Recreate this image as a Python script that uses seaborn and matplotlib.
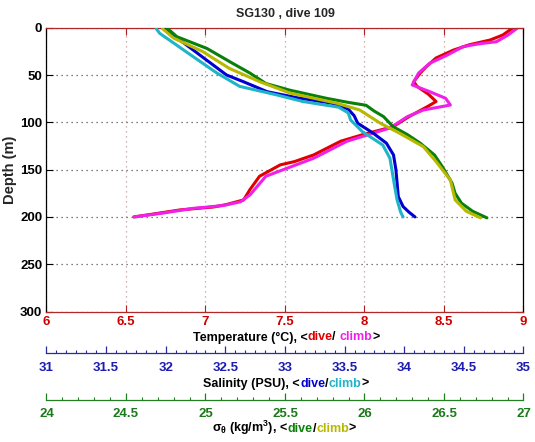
import numpy as np
import pandas as pd
import matplotlib
matplotlib.use('Agg')
import matplotlib.pyplot as plt
import seaborn as sns
from matplotlib.ticker import FixedLocator

# profile readings: depth (m) and value
temp_dive_depth = [0.6, 7.7, 13, 18, 23.6, 32, 41, 48, 57, 62, 70, 78, 83, 94, 104.6, 113, 120,
                   134.5, 141.5, 145, 157, 171, 182, 187, 189.5, 192.6, 198, 200]
temp_dive = [8.93, 8.87, 8.79, 8.66, 8.56, 8.45, 8.39, 8.35, 8.31, 8.33, 8.40, 8.45, 8.40, 8.28, 8.18,
             7.99, 7.85, 7.68, 7.56, 7.47, 7.34, 7.28, 7.24, 7.13, 7.05, 6.84, 6.63, 6.55]
temp_climb_depth = [0.6, 8, 14.8, 17, 20, 29, 37.6, 48, 60.5, 67.6, 74.6, 81.7, 87, 94, 106, 120,
                    138, 150, 157, 176.7, 184, 188, 191, 196, 200]
temp_climb = [8.96, 8.90, 8.83, 8.72, 8.62, 8.52, 8.41, 8.34, 8.30, 8.41, 8.51, 8.54, 8.37, 8.27, 8.16,
              7.89, 7.68, 7.49, 7.38, 7.28, 7.22, 7.11, 6.92, 6.73, 6.55]

sal_dive_depth = [0.5, 16, 34, 50, 57, 67.6, 74, 80, 86, 93, 101, 111.5, 122, 134.5, 150, 164,
                  178.5, 189, 195, 200]
sal_dive = [31.98, 32.15, 32.34, 32.51, 32.65, 32.85, 33.10, 33.40, 33.53, 33.58, 33.61, 33.74,
            33.85, 33.91, 33.93, 33.94, 33.95, 33.99, 34.04, 34.09]
sal_climb_depth = [1, 6, 30.6, 48, 62, 71, 78, 84, 90, 97.5, 110, 124, 138, 168, 182, 195, 200]
sal_climb = [31.92, 31.95, 32.23, 32.43, 32.62, 32.93, 33.15, 33.45, 33.53, 33.55, 33.65, 33.82,
             33.88, 33.92, 33.94, 33.97, 33.99]

sig_dive_depth = [0.6, 9.5, 22, 37.6, 48, 59, 66, 74.6, 79, 82, 88, 94, 104.6, 113, 122, 134.5,
                  147, 164, 175, 185.5, 194, 201]
sig_dive = [24.76, 24.82, 25.01, 25.17, 25.28, 25.38, 25.53, 25.76, 25.90, 26.01, 26.06, 26.12,
            26.18, 26.27, 26.35, 26.44, 26.49, 26.55, 26.57, 26.61, 26.68, 26.77]
sig_climb_depth = [1, 11, 25, 43, 57, 69, 80, 87, 101, 111.5, 125.7, 141.5, 161, 182, 194, 201]
sig_climb = [24.73, 24.80, 24.98, 25.15, 25.34, 25.53, 25.83, 25.97, 26.10, 26.22, 26.37, 26.45,
             26.54, 26.57, 26.64, 26.73]

depth_ticks = [0, 50, 100, 150, 200, 250, 300]
temp_ticks = [6, 6.5, 7, 7.5, 8, 8.5, 9]
temp_labels = ['6', '6.5', '7', '7.5', '8', '8.5', '9']
sal_ticks = [31, 31.5, 32, 32.5, 33, 33.5, 34, 34.5, 35]
sal_labels = ['31', '31.5', '32', '32.5', '33', '33.5', '34', '34.5', '35']
sig_ticks = [24, 24.5, 25, 25.5, 26, 26.5, 27]
sig_labels = ['24', '24.5', '25', '25.5', '26', '26.5', '27']

RED, MAGENTA = '#e00000', '#f020e8'
BLUE, CYAN = '#0000d0', '#20b4c8'
GREEN, OLIVE = '#0a800a', '#b8b800'

sns.set_theme(style='white')
plt.rcParams['font.family'] = ['Liberation Sans', 'DejaVu Sans']
plt.rcParams['font.weight'] = 'bold'
plt.rcParams['mathtext.default'] = 'regular'

fig = plt.figure(figsize=(5.35, 4.42), dpi=100)
ax = fig.add_axes([0.0869, 0.2952, 0.8916, 0.6421])


def profile(axis, depth, values, color):
    df = pd.DataFrame({'depth': depth, 'value': values})
    sns.lineplot(data=df, x='value', y='depth', sort=False, estimator=None,
                 color=color, lw=2.2, ax=axis)


profile(ax, temp_dive_depth, temp_dive, RED)
profile(ax, temp_climb_depth, temp_climb, MAGENTA)
ax.set_xlim(6, 9)
ax.set_ylim(300, 0)
ax.set_xlabel('')
ax.set_ylabel('Depth (m)', fontsize=10.5, fontweight='bold', labelpad=2)

# salinity and sigma share the depth axis, their x axes sit below
ax_s = ax.twiny()
ax_g = ax.twiny()
for a, off, col in [(ax_s, 30, '#2a2a9a'), (ax_g, 63.7, '#208020')]:
    a.xaxis.set_ticks_position('bottom')
    a.xaxis.set_label_position('bottom')
    a.spines['bottom'].set_position(('outward', off))
    a.spines['bottom'].set_color(col)
    a.spines['bottom'].set_linewidth(0.9)
    for sp in ['top', 'left', 'right']:
        a.spines[sp].set_visible(False)
    a.patch.set_visible(False)
    a.grid(False)

profile(ax_s, sal_dive_depth, sal_dive, BLUE)
profile(ax_s, sal_climb_depth, sal_climb, CYAN)
ax_s.set_xlim(31, 35)
ax_s.set_xticks(sal_ticks)
ax_s.set_xticklabels(sal_labels)
ax_s.xaxis.set_minor_locator(FixedLocator(np.linspace(31, 35, 49)))
ax_s.tick_params(axis='x', which='major', direction='in', length=5, width=0.9, color='#2a2a9a',
                 labelcolor='#1c1cb0', labelsize=9.5, pad=6)
ax_s.tick_params(axis='x', which='minor', direction='in', length=2.5, width=0.8, color='#2a2a9a')
ax_s.set_xlabel('')

profile(ax_g, sig_dive_depth, sig_dive, GREEN)
profile(ax_g, sig_climb_depth, sig_climb, OLIVE)
ax_g.set_xlim(24, 27)
ax_g.set_xticks(sig_ticks)
ax_g.set_xticklabels(sig_labels)
ax_g.xaxis.set_minor_locator(FixedLocator(np.linspace(24, 27, 31)))
ax_g.tick_params(axis='x', which='major', direction='in', length=5, width=0.9, color='#208020',
                 labelcolor='#1a7a1a', labelsize=9.5, pad=6)
ax_g.tick_params(axis='x', which='minor', direction='in', length=2.5, width=0.8, color='#208020')
ax_g.set_xlabel('')
ax_s.set_ylim(300, 0)

# main axes styling (matlab look)
ax.set_xticks(temp_ticks)
ax.set_xticklabels(temp_labels)
ax.set_yticks(depth_ticks)
ax.set_yticklabels([str(d) for d in depth_ticks])
ax.tick_params(axis='x', direction='in', top=True, bottom=True, length=5, width=0.8,
               color='#b02020', labelcolor='#d00000', labelsize=9.5, pad=3)
ax.tick_params(axis='y', direction='in', left=True, right=True, length=5, width=0.8,
               color='black', labelcolor='black', labelsize=9.5, pad=3)
for sp in ['top', 'bottom']:
    ax.spines[sp].set_color('#b02828')
for sp in ['left', 'right']:
    ax.spines[sp].set_color('black')
for sp in ax.spines.values():
    sp.set_linewidth(0.9)
ax.xaxis.grid(True, color='#c09a9a', linestyle=(0, (1, 3)), lw=0.9)
ax.yaxis.grid(True, color='#555555', linestyle=(0, (1, 3)), lw=0.9)
ax.set_axisbelow(True)

fig.text(0.5327, 1 - 16.7 / 442, 'SG130 , dive 109', ha='center', va='baseline',
         fontsize=9, fontweight='bold')


def colored_label(pieces, xc_px, base_px, size=9):
    renderer = fig.canvas.get_renderer()
    W = fig.get_figwidth() * fig.dpi
    texts, widths = [], []
    for s, c in pieces:
        t = fig.text(0, 1 - base_px / 442, s, color=c, fontsize=size, fontweight='bold',
                     ha='left', va='baseline')
        texts.append(t)
        widths.append(t.get_window_extent(renderer).width)
    x = xc_px - sum(widths) / 2
    for t, w in zip(texts, widths):
        t.set_x(x / W)
        x += w


colored_label([('Temperature (\u00b0C), <', 'black'), ('dive', RED), ('/ ', 'black'),
               ('climb', MAGENTA), ('>', 'black')], 286, 340.5)
colored_label([('Salinity (PSU), <', 'black'), ('dive', BLUE), ('/', 'black'),
               ('climb', CYAN), ('>', 'black')], 286, 387)
colored_label([(r'$\sigma_{\theta}$ (kg/m$^{3}$), <', 'black'), ('dive', GREEN), ('/', 'black'),
               ('climb', OLIVE), ('>', 'black')], 284, 432)

fig.savefig('out.png', dpi=100)
